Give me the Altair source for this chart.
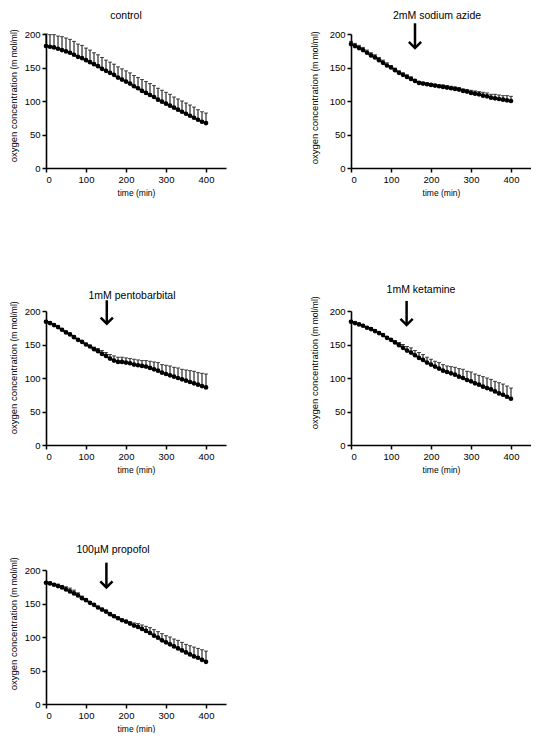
import altair as alt
import pandas as pd

TIME = [0, 10, 20, 30, 40, 50, 60, 70, 80, 90, 100, 110, 120, 130, 140, 150, 160, 170, 180, 190, 200,
        210, 220, 230, 240, 250, 260, 270, 280, 290, 300, 310, 320, 330, 340, 350, 360, 370, 380, 390, 400]

TITLES = ["control", "2mM sodium azide", "1mM pentobarbital", "1mM ketamine", "100µM propofol"]

MEAN_CONTROL = [182, 181, 180, 178, 176, 174, 172, 169, 166, 164, 161,
                158, 155, 152, 148, 145, 142, 139, 135, 132, 129,
                126, 122, 119, 115, 112, 109, 106, 102, 99, 96,
                93, 90, 87, 84, 81, 78, 75, 72, 69, 67]
SD_CONTROL = [18, 18, 19, 19, 20, 20, 20, 20, 19, 19, 18,
              18, 17, 17, 17, 16, 16, 16, 16, 16, 16,
              16, 16, 16, 17, 17, 17, 17, 17, 17, 17,
              17, 16, 16, 16, 16, 16, 16, 15, 15, 15]

MEAN_AZIDE = [185, 182, 179, 176, 172, 168, 165, 161, 157, 153, 150,
              146, 142, 139, 136, 133, 130, 127, 126, 125, 124,
              123, 122, 121, 120, 119, 118, 117, 115, 114, 112,
              111, 110, 108, 107, 105, 104, 103, 102, 101, 100]
SD_AZIDE = [4, 4, 4, 4, 4, 4, 4, 4, 4, 4, 3,
            3, 3, 3, 3, 3, 2, 2, 2, 2, 2,
            2, 2, 3, 3, 3, 3, 3, 3, 3, 4,
            4, 4, 5, 5, 5, 6, 6, 6, 7, 7]

MEAN_PENTO = [184, 182, 179, 176, 172, 168, 165, 161, 157, 154, 150,
              147, 143, 140, 136, 133, 129, 126, 124, 124, 123,
              122, 120, 119, 118, 117, 115, 113, 111, 108, 106,
              104, 102, 100, 98, 96, 94, 92, 90, 88, 86]
SD_PENTO = [2, 2, 2, 2, 2, 2, 2, 2, 2, 2, 2,
            2, 3, 4, 5, 5, 6, 7, 7, 7, 7,
            7, 8, 8, 8, 9, 10, 11, 12, 12, 13,
            14, 14, 15, 15, 16, 17, 18, 18, 19, 20]

MEAN_KETA = [184, 182, 180, 178, 175, 173, 170, 167, 164, 160, 157,
             153, 149, 145, 141, 138, 134, 130, 127, 123, 120,
             117, 114, 111, 109, 107, 105, 102, 100, 97, 95,
             92, 90, 87, 85, 83, 80, 77, 75, 72, 69]
SD_KETA = [2, 2, 2, 2, 2, 2, 2, 2, 2, 2, 2,
           3, 4, 5, 6, 7, 7, 8, 8, 8, 8,
           8, 9, 9, 9, 10, 11, 12, 13, 13, 14,
           14, 14, 15, 15, 15, 15, 16, 16, 16, 16]

MEAN_PROP = [181, 180, 178, 176, 174, 171, 168, 165, 162, 158, 155,
             151, 148, 144, 141, 138, 134, 131, 128, 125, 123,
             120, 117, 115, 112, 109, 106, 102, 99, 95, 92,
             89, 86, 83, 80, 77, 74, 71, 69, 66, 63]
SD_PROP = [1, 2, 2, 3, 3, 4, 5, 5, 4, 3, 2,
           2, 2, 2, 2, 2, 2, 2, 2, 2, 2,
           3, 4, 5, 6, 7, 8, 9, 9, 10, 10,
           11, 11, 12, 12, 12, 13, 14, 14, 15, 16]

# arrows marking drug addition (time in min, y in data units)
ARROW_X = [None, 160, 152, 139, 151]
ARROW_TOP = [None, 216, 216, 215, 211]
ARROW_TIP = [None, 179, 181, 179, 174]

X_TICKS = [0, 100, 200, 300, 400]
Y_TICKS = [0, 50, 100, 150, 200]
X_DOMAIN = [0, 450]
Y_DOMAIN = [0, 200]

FONT = "Liberation Sans"
W, H = 180, 134

# layout helpers (pixel offsets relative to each plot area)
TITLE_POS = [(80, -18), (86, -18), (86, -15), (70, -21), (67, -20)]
YTITLE_POS = [(-33, 38), (-37, 40), (-33, 33), (-37, 28), (-33, 30)]


def X(field):
    return alt.X(field, scale=alt.Scale(domain=X_DOMAIN, nice=False),
                 axis=alt.Axis(values=X_TICKS, title="time (min)", titlePadding=5))


def Y(field):
    return alt.Y(field, scale=alt.Scale(domain=Y_DOMAIN, nice=False),
                 axis=alt.Axis(values=Y_TICKS, title=None))


def panel(i, mean, sd):
    df = pd.DataFrame({"t": TIME, "m": mean, "sd": sd})
    base = alt.Chart(df).transform_calculate(top="datum.m + datum.sd")
    bars = base.mark_rule(color="black", strokeWidth=1).encode(
        x=X("t:Q"), y=Y("m:Q"), y2="top:Q")
    caps = base.mark_tick(color="black", orient="horizontal", size=4, thickness=1).encode(
        x=X("t:Q"), y=Y("top:Q"))
    line = base.mark_line(color="black", strokeWidth=1.6).encode(x=X("t:Q"), y=Y("m:Q"))
    pts = base.mark_point(filled=True, color="black", size=22, opacity=1).encode(
        x=X("t:Q"), y=Y("m:Q"))

    one = pd.DataFrame({"a": [0]})
    tx, ty = TITLE_POS[i]
    title = alt.Chart(one).mark_text(text=TITLES[i], font=FONT, fontSize=10.5, color="black",
                                     align="center", baseline="middle").encode(
        x=alt.value(tx), y=alt.value(ty))
    yx, yj = YTITLE_POS[i]
    yt1 = alt.Chart(one).mark_text(text="oxygen concentration", font=FONT, fontSize=9.5,
                                   color="black", angle=270, align="right",
                                   baseline="alphabetic").encode(
        x=alt.value(yx + 3.5), y=alt.value(yj))
    yt2 = alt.Chart(one).mark_text(text="(m mol/ml)", font=FONT, fontSize=8.5,
                                   color="black", angle=270, align="left",
                                   baseline="alphabetic").encode(
        x=alt.value(yx + 3.5), y=alt.value(yj - 2.5))
    layers = [yt1, yt2, title, bars, caps, line, pts]
    if ARROW_X[i] is not None:
        adf = pd.DataFrame({"x": [ARROW_X[i]], "y1": [ARROW_TOP[i]], "y2": [ARROW_TIP[i]]})
        shaft = alt.Chart(adf).mark_rule(color="black", strokeWidth=2.5).encode(
            x=X("x:Q"), y=Y("y1:Q"), y2="y2:Q")
        head = alt.Chart(adf).mark_point(shape="M-1,-1L0,0L1,-1", filled=False, color="black",
                                         strokeWidth=2.5, size=150, opacity=1,
                                         strokeJoin="miter").encode(x=X("x:Q"), y=Y("y2:Q"))
        layers += [shaft, head]
    return alt.layer(*layers).properties(width=W, height=H)


p1 = panel(0, MEAN_CONTROL, SD_CONTROL)
p2 = panel(1, MEAN_AZIDE, SD_AZIDE)
p3 = panel(2, MEAN_PENTO, SD_PENTO)
p4 = panel(3, MEAN_KETA, SD_KETA)
p5 = panel(4, MEAN_PROP, SD_PROP)

row1 = alt.hconcat(p1, p2, spacing=125, bounds="flush")
row2 = alt.hconcat(p3, p4, spacing=125, bounds="flush")

chart = alt.vconcat(row1, alt.vconcat(row2, p5, spacing=71), spacing=88).properties(
    padding={"top": 3, "left": 0, "right": 0, "bottom": 0}
).configure_view(stroke=None).configure_axis(
    domainColor="black", domainWidth=1.6, tickColor="black", tickWidth=1.5, tickSize=4,
    labelFont=FONT, labelFontSize=9.5, labelColor="black", labelPadding=2,
    titleFont=FONT, titleFontSize=8.5, titleFontWeight="normal", titleColor="black",
    grid=False
)

chart.save("out.html", embed_options={"renderer": "svg", "actions": False})
